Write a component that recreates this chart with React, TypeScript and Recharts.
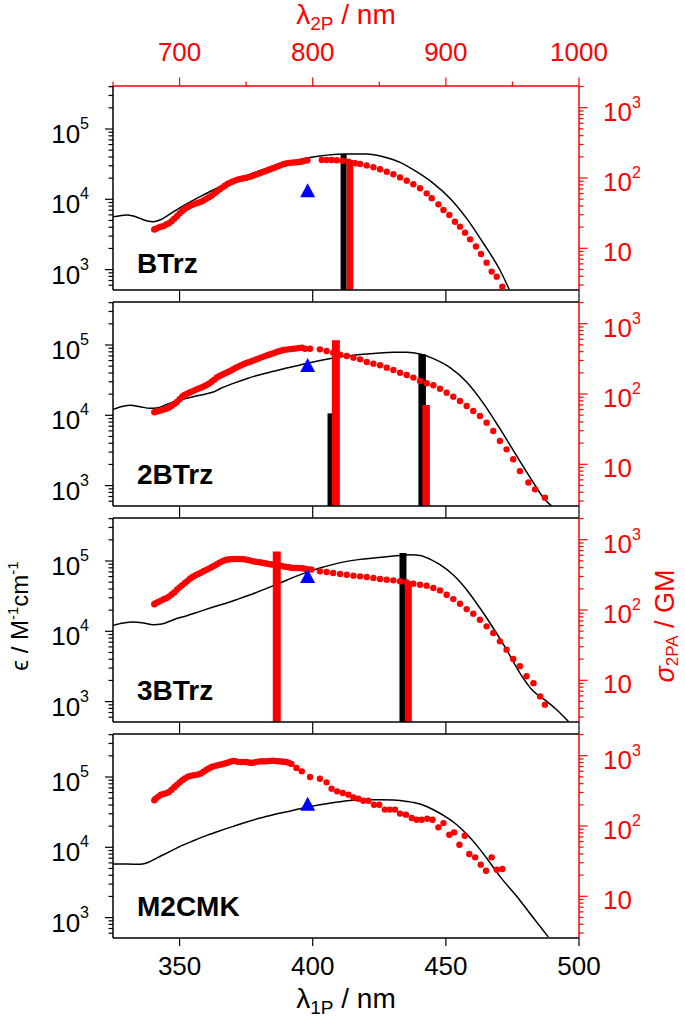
import React from 'react';
import { ComposedChart, Line, Scatter, XAxis, YAxis, ReferenceLine } from 'recharts';

type Pt = [number, number];

const FONT = '"Liberation Sans", Arial, Helvetica, sans-serif';
const RED = '#ff0000';
const BLUE = '#0000ff';
const BLACK = '#000000';

// ---------- axes ----------
const X1P_DOMAIN = [325, 500];
const X1P_TICKS = [350, 400, 450, 500];
const X2P_DOMAIN = [650, 1000];
const X2P_TICKS = [650, 700, 750, 800, 850, 900, 950, 1000];
const X2P_LABELED = [700, 800, 900, 1000];
const EPS_DOMAIN = [513, 409000];
const EPS_TICKS = [600, 700, 800, 900, 1000, 2000, 3000, 4000, 5000, 6000, 7000, 8000, 9000, 10000,
  20000, 30000, 40000, 50000, 60000, 70000, 80000, 90000, 100000, 200000, 300000, 400000];
const EPS_LABELED = [1000, 10000, 100000];
const SIG_DOMAIN = [2.55, 2036];
const SIG_TICKS = [3, 4, 5, 6, 7, 8, 9, 10, 20, 30, 40, 50, 60, 70, 80, 90, 100, 200, 300, 400, 500, 600, 700, 800, 900, 1000, 2000];
const SIG_LABELED = [10, 100, 1000];

// ---------- BTrz ----------
const BTRZ_EPS: Pt[] = [[325.1,5660],[327.6,5850],[330.1,5980],[332.6,5780],[335.1,5360],[337.6,4970],[340.1,4810],[342.6,5080],[345.2,5780],[350.2,7600],[357.7,10900],[365.2,15100],[372.7,19900],[380.2,25500],[387.7,31400],[395.2,37000],[402.7,41300],[411.5,44100],[420.3,44100],[426.5,40400],[432.8,33600],[439.0,24700],[445.3,16900],[451.6,10300],[457.8,5360],[464.1,2370],[470.3,987],[473.8,524]];
const BTRZ_SIG: Pt[] = [[340.5,18.5],[341,18.8],[342,19.7],[343,20.2],[344,20.7],[345,21.8],[346,22.8],[347,24.2],[348,26.3],[349,28.5],[350,31.2],[351,34.0],[352,36.5],[353,38.5],[354,40.2],[355,41.8],[356,43.2],[357,44.5],[358,45.8],[359,47.8],[360,50.5],[361,53.2],[362,56],[363,60],[364,64],[365,68.5],[366,73],[367,77.5],[368,82],[369,86],[370,89.5],[371,92.5],[372,95],[373,97],[374,99],[375,101],[376,103],[377,106],[378,109.5],[379,113],[380,117],[381,121],[382,125],[383,129],[384,133],[385,137.5],[386,142.5],[387,147.5],[388,152.5],[389,157.5],[390,161],[391,164],[392,165.5],[393,166.5],[394,167],[395,169],[396,172],[397,176],[398,179],
  [403.4,180],[405.2,180],[407.1,180],[409.0,179],[411.2,176],[413.4,171],[415.9,162],[417.8,158],[420.3,151],[422.8,142],[425.3,133],[427.8,123],[430.3,113],[432.8,102],[435.3,91.6],[437.8,81.3],[440.3,71.3],[442.8,60.5],[444.7,51.4],[447.2,42.2],[449.1,35.1],[451.3,29.8],[453.4,23.9],[455.3,20.3],[457.2,16.7],[459.1,13.4],[461.3,10.6],[463.2,8.3],[465.3,6.25],[467.2,4.66],[469.1,3.95],[471.2,2.85]];
const BTRZ_TRI: Pt[] = [[398.1, 64.6]];
const BTRZ_EPS_BARS: Pt[] = [[411.6, 44100]];
const BTRZ_SIG_BARS: Pt[] = [[414.0, 180]];

// ---------- 2BTrz ----------
const TRZ2_EPS: Pt[] = [[325.1,12160],[327.6,13130],[331.4,13870],[335.1,13280],[338.9,12570],[341.4,12700],[345.2,14320],[350.2,16510],[355.2,18410],[360.2,20310],[362.7,21450],[365.2,23910],[370.2,28490],[375.2,33200],[380.2,37840],[385.2,42210],[390.2,47090],[395.2,51960],[400.2,57310],[405.2,62520],[410.3,67480],[415.3,71270],[420.3,74440],[425.3,76910],[430.3,78640],[435.3,78640],[440.3,74440],[445.3,63970],[451.6,47610],[457.8,29780],[464.1,14800],[470.3,6450],[476.6,2640],[482.9,1100],[486.6,673],[489.7,513]];
const TRZ2_SIG: Pt[] = [[340.5,55],[341,56],[342,57],[343,58.5],[344,60],[345,61.8],[346,64.5],[347,67.5],[348,72],[349,77],[350,84],[351,92],[352,98],[353,102],[354,106],[355,110],[356,114.5],[357,119],[358,123],[359,128],[360,133],[361,140],[362,149],[363,160],[364,172],[365,180],[366,188],[367,196],[368,204],[369,213],[370,223],[371,234],[372,245],[373,255],[374,266],[375,276],[376,284],[377,293],[378,303],[379,313],[380,324],[381,335],[382,346],[383,357],[384,367],[385,378],[386,390],[387,402],[388,413],[389,423],[390,428],[391,432],[392,437],[393,442],[394,446],[395,452],[396,456],
  [397.1,441],[399.0,441],[402.7,432],[405.2,409],[407.7,387],[410.3,362],[412.8,347],[415.3,329],[417.8,311],[420.3,285],[422.8,270],[425.3,256],[427.8,237],[430.3,219],[432.8,201],[435.3,186],[437.8,171],[440.3,153],[442.8,142],[445.3,133],[447.8,119],[450.3,104.5],[452.8,91.6],[455.3,79.5],[457.8,67.5],[460.3,57.3],[462.8,48.6],[465.3,39.1],[467.8,29.8],[470.3,21.4],[472.8,16.3],[475.3,11.8],[477.8,8.0],[481.0,5.5],[483.5,4.4],[487.2,3.35]];
const TRZ2_TRI: Pt[] = [[398.1, 250]];
const TRZ2_EPS_BARS: Pt[] = [[406.4, 10660], [441.1, 73600]];
const TRZ2_SIG_BARS: Pt[] = [[408.7, 580], [442.6, 69.8]];

// ---------- 3BTrz ----------
const TRZ3_EPS: Pt[] = [[325.1,12150],[328.9,13130],[332.6,13560],[336.4,13130],[340.1,12420],[343.3,12700],[347.7,14640],[352.7,16680],[357.7,19230],[362.7,22140],[367.7,25240],[372.7,29420],[377.7,34290],[382.7,40820],[387.7,48590],[392.7,58480],[397.7,68960],[402.7,79490],[407.7,89570],[412.8,98800],[417.8,105500],[422.8,110200],[427.8,115100],[432.8,120200],[436.5,122900],[440.3,120200],[444.0,106600],[447.8,88720],[452.8,63240],[457.8,39090],[462.8,21440],[467.8,11140],[472.8,5480],[477.8,2550],[482.9,1400],[487.9,1010],[491.6,768],[496.0,524]];
const TRZ3_SIG: Pt[] = [[340.5,121],[341,125],[342,130],[343,136],[344,142],[345,147],[346,155],[347,166],[348,178],[349,194],[350,210],[351,226],[352,243],[353,260],[354,280],[355,298],[356,312],[357,326],[358,340],[359,355],[360,372],[361,388],[362,405],[363,425],[364,448],[365,472],[366,492],[367,510],[368,522],[369,528],[370,531],[371,532],[372,532],[373,530],[374,526],[375,521],[376,512],[377,500],[378,490],[379,483],[380,477],[381,470],[382,462],[383,455],[384,448],[385,442],[386,436],[387,431],[388,425],[389,418],[390,410],[391,405],[392,399],[393,396],[394,396],[395,396],[396,392],[397,386],[398,381],[399.5,376],
  [402.7,355],[405.2,347],[407.7,336],[410.3,325],[412.8,318],[415.3,308],[417.8,301],[420.3,294],[422.8,285],[425.3,276],[427.8,270],[430.3,264],[432.8,256],[435.3,247],[437.8,237],[440.3,229],[442.8,222],[445.3,206],[447.8,190],[450.3,165],[452.8,143],[455.3,123],[457.8,103],[460.3,88.7],[462.8,72.8],[465.3,58.5],[467.8,47.1],[470.3,35.8],[472.8,27.3],[475.3,20.1],[477.8,15.8],[480.3,11.4],[482.9,9.1],[485.4,5.9],[487.2,4.5]];
const TRZ3_TRI: Pt[] = [[398.1, 294]];
const TRZ3_EPS_BARS: Pt[] = [[433.9, 130000]];
const TRZ3_SIG_BARS: Pt[] = [[386.5, 682], [435.9, 256]];

// ---------- M2CMK ----------
const M2CMK_EPS: Pt[] = [[325.1,5780],[330.1,5780],[335.1,5720],[337.6,5970],[341.4,7030],[345.2,8280],[350.2,10300],[355.2,12410],[360.2,14790],[365.2,17220],[370.2,19860],[375.2,22880],[380.2,26070],[385.2,29090],[390.2,32070],[395.2,35380],[400.2,38620],[405.2,41690],[410.3,44550],[415.3,46540],[420.3,47570],[425.3,47570],[430.3,47020],[435.3,44990],[440.3,41220],[445.3,34260],[450.3,26650],[454.1,20960],[457.8,15440],[461.6,10650],[465.3,7030],[470.3,3860],[476.6,2010],[482.9,986],[488.5,530]];
const M2CMK_SIG: Pt[] = [[340.5,232],[341,245],[342,262],[343,278],[344,286],[345,292],[346,305],[347,328],[348,355],[349,385],[350,415],[351,448],[352,475],[353,500],[354,515],[355,525],[356,532],[357,542],[358,560],[359,590],[360,625],[361,660],[362,690],[363,710],[364,728],[365,742],[366,755],[367,775],[368,795],[369,820],[370,845],[371,835],[372,818],[373,812],[374,815],[375,812],[376,800],[377,790],[378,800],[379,818],[380,830],[381,832],[382,830],[383,835],[384,842],[385,848],[386,842],[387,832],[388,828],[389,822],[390,812],[391,795],[392,765],
  [393.9,668],[395.9,599],[399.0,498],[402.7,471],[405.2,418],[407.1,340],[409.2,311],[411.3,294],[413.4,279],[415.3,255],[417.1,244],[419.0,229],[420.9,229],[423.0,201],[425.0,201],[427.1,171],[429.0,171],[430.9,171],[432.8,150],[435.0,145],[437.2,130],[439.0,123],[440.9,123],[443.0,127],[445.0,123],[447.2,95.7],[449.1,110],[451.3,75.2],[453.1,81.1],[455.1,54.2],[457.1,72.8],[458.8,39.9],[461.0,35.8],[463.1,28.2],[465.1,23.1],[467.2,35.8],[469.1,23.9],[471.2,24.4]];
const M2CMK_TRI: Pt[] = [[398.1, 201]];
const M2CMK_EPS_BARS: Pt[] = [];
const M2CMK_SIG_BARS: Pt[] = [];

const PANEL_NAMES = ['BTrz', '2BTrz', '3BTrz', 'M2CMK'];
const PANELS = [
  { eps: BTRZ_EPS, sig: BTRZ_SIG, tri: BTRZ_TRI, epsBars: BTRZ_EPS_BARS, sigBars: BTRZ_SIG_BARS },
  { eps: TRZ2_EPS, sig: TRZ2_SIG, tri: TRZ2_TRI, epsBars: TRZ2_EPS_BARS, sigBars: TRZ2_SIG_BARS },
  { eps: TRZ3_EPS, sig: TRZ3_SIG, tri: TRZ3_TRI, epsBars: TRZ3_EPS_BARS, sigBars: TRZ3_SIG_BARS },
  { eps: M2CMK_EPS, sig: M2CMK_SIG, tri: M2CMK_TRI, epsBars: M2CMK_EPS_BARS, sigBars: M2CMK_SIG_BARS },
];

// ---------- layout / style (not data) ----------
const CHART_W = 685;
const PLOT_LEFT = 113;
const PLOT_RIGHT = 579;
const AXIS_W = 80;
const PLOT_H = 204;
const PANEL_TOPS = [86, 302, 518, 734];
const LABEL_BASELINES = [187, 182, 182, 182];
const EPS_BAR_W = [[6], [4.5, 7.5], [7], []];
const SIG_BAR_W = [[6.5], [8, 7.5], [8, 7], []];

const toXY = (pts: Pt[]) => pts.map(([x, y]) => ({ x, y }));

const LeftTick = (props: any) => {
  const { x, y, payload } = props;
  const v = payload.value;
  const major = EPS_LABELED.includes(v);
  const exp = Math.round(Math.log10(v));
  return (
    <g>
      <line x1={x - (major ? 8 : 4.5)} x2={x} y1={y} y2={y} stroke={BLACK} strokeWidth={1.2} />
      {major && (
        <text x={x - 24} y={y + 14} textAnchor="end" fontSize={26} fontFamily={FONT} fill={BLACK}>
          10<tspan fontSize={16} dy={-14}>{exp}</tspan>
        </text>
      )}
    </g>
  );
};

const RightTick = (props: any) => {
  const { x, y, payload } = props;
  const v = payload.value;
  const major = SIG_LABELED.includes(v);
  const exp = Math.round(Math.log10(v));
  return (
    <g>
      <line x1={x} x2={x + (major ? 8.5 : 4.5)} y1={y} y2={y} stroke={RED} strokeWidth={1.2} />
      {major && (
        <text x={x + 24} y={y + 13} textAnchor="start" fontSize={26} fontFamily={FONT} fill={RED}>
          10{exp > 1 && <tspan fontSize={16} dy={-13}>{exp}</tspan>}
        </text>
      )}
    </g>
  );
};

const TopRedTick = (props: any) => {
  const { x, y, payload } = props;
  const v = payload.value;
  const major = X2P_LABELED.includes(v);
  return (
    <g>
      <line x1={x} x2={x} y1={y} y2={y - (major ? 8.5 : 4.5)} stroke={RED} strokeWidth={1.2} />
      {major && (
        <text x={x} y={y - 25} textAnchor="middle" fontSize={26} fontFamily={FONT} fill={RED}>{v}</text>
      )}
    </g>
  );
};

const UpTick = (props: any) => {
  const { x, y } = props;
  return <line x1={x} x2={x} y1={y} y2={y - 6} stroke={BLACK} strokeWidth={1.2} />;
};

const DownTick = (props: any) => {
  const { x, y } = props;
  return <line x1={x} x2={x} y1={y} y2={y + 6} stroke={BLACK} strokeWidth={1.2} />;
};

const BottomLabelTick = (props: any) => {
  const { x, y, payload } = props;
  return (
    <g>
      <line x1={x} x2={x} y1={y} y2={y + 8} stroke={BLACK} strokeWidth={1.2} />
      <text x={x} y={y + 37} textAnchor="middle" fontSize={26} fontFamily={FONT} fill={BLACK}>{payload.value}</text>
    </g>
  );
};

const RedDot = (props: any) => <circle cx={props.cx} cy={props.cy} r={3.2} fill={RED} />;
const BlueTriangle = (props: any) => {
  const { cx, cy } = props;
  return <polygon points={`${cx},${cy - 8} ${cx - 7.5},${cy + 6} ${cx + 7.5},${cy + 6}`} fill={BLUE} />;
};

function Panel({ idx }: { idx: number }) {
  const p = PANELS[idx];
  const first = idx === 0;
  const last = idx === PANELS.length - 1;
  const topH = first ? 86 : 6;
  const botH = last ? 81 : 6;
  const h = topH + PLOT_H + botH;
  return (
    <div style={{ position: 'absolute', left: 0, top: PANEL_TOPS[idx] - topH }}>
      <ComposedChart
        width={CHART_W}
        height={h}
        margin={{ top: 0, right: CHART_W - PLOT_RIGHT - AXIS_W, bottom: 0, left: PLOT_LEFT - AXIS_W }}
      >
        {first ? (
          <XAxis xAxisId="top" orientation="top" type="number" dataKey="x2" domain={X2P_DOMAIN} ticks={X2P_TICKS}
            interval={0} height={topH} tickSize={0} tickMargin={0} tickLine={false} allowDataOverflow
            axisLine={{ stroke: RED, strokeWidth: 1.5 }} tick={TopRedTick} />
        ) : (
          <XAxis xAxisId="top" orientation="top" type="number" dataKey="x" domain={X1P_DOMAIN} ticks={X1P_TICKS}
            interval={0} height={topH} tickSize={0} tickMargin={0} tickLine={false} allowDataOverflow
            axisLine={{ stroke: BLACK, strokeWidth: 1.5 }} tick={UpTick} />
        )}
        <XAxis xAxisId="b" orientation="bottom" type="number" dataKey="x" domain={X1P_DOMAIN} ticks={X1P_TICKS}
          interval={0} height={botH} tickSize={0} tickMargin={0} tickLine={false} allowDataOverflow
          axisLine={{ stroke: BLACK, strokeWidth: 1.5 }} tick={last ? BottomLabelTick : DownTick} />
        <YAxis yAxisId="l" orientation="left" type="number" scale="log" dataKey="y" domain={EPS_DOMAIN} ticks={EPS_TICKS}
          interval={0} width={AXIS_W} tickSize={0} tickMargin={0} tickLine={false} allowDataOverflow
          axisLine={{ stroke: BLACK, strokeWidth: 1.5 }} tick={LeftTick} />
        <YAxis yAxisId="r" orientation="right" type="number" scale="log" dataKey="y" domain={SIG_DOMAIN} ticks={SIG_TICKS}
          interval={0} width={AXIS_W} tickSize={0} tickMargin={0} tickLine={false} allowDataOverflow
          axisLine={{ stroke: RED, strokeWidth: 1.5 }} tick={RightTick} />
        <Line xAxisId="b" yAxisId="l" data={toXY(p.eps)} dataKey="y" type="monotone" stroke={BLACK}
          strokeWidth={1.5} dot={false} activeDot={false} isAnimationActive={false} />
        {p.epsBars.map(([nm, v], i) => (
          <ReferenceLine key={`eb${i}`} xAxisId="b" yAxisId="l" ifOverflow="hidden"
            segment={[{ x: nm, y: EPS_DOMAIN[0] }, { x: nm, y: v }]}
            stroke={BLACK} strokeWidth={EPS_BAR_W[idx][i]} />
        ))}
        {p.sigBars.map(([nm, v], i) => (
          <ReferenceLine key={`sb${i}`} xAxisId="b" yAxisId="r" ifOverflow="hidden"
            segment={[{ x: nm, y: SIG_DOMAIN[0] }, { x: nm, y: v }]}
            stroke={RED} strokeWidth={SIG_BAR_W[idx][i]} />
        ))}
        <Scatter xAxisId="b" yAxisId="r" data={toXY(p.sig)} dataKey="y" shape={RedDot} isAnimationActive={false} />
        <Scatter xAxisId="b" yAxisId="r" data={toXY(p.tri)} dataKey="y" shape={BlueTriangle} isAnimationActive={false} />
      </ComposedChart>
    </div>
  );
}

export default function App() {
  return (
    <div style={{ position: 'absolute', left: 0, top: 0, width: 685, height: 1019, background: '#fff', fontFamily: FONT }}>
      {PANELS.map((_, i) => <Panel key={i} idx={i} />)}
      <svg width={685} height={1019} style={{ position: 'absolute', left: 0, top: 0, pointerEvents: 'none' }}>
        <text x={346} y={24} textAnchor="middle" fontSize={28} fontFamily={FONT} fill={RED}>
          λ<tspan fontSize={19} dy={6}>2P</tspan><tspan dy={-6}> / nm</tspan>
        </text>
        <text x={346} y={1008} textAnchor="middle" fontSize={28} fontFamily={FONT} fill={BLACK}>
          λ<tspan fontSize={19} dy={6}>1P</tspan><tspan dy={-6}> / nm</tspan>
        </text>
        <text transform="translate(28,616) rotate(-90)" textAnchor="middle" fontSize={24} fontFamily={FONT} fill={BLACK}>
          ϵ / M<tspan fontSize={15} dy={-10}>-1</tspan><tspan dy={10}>cm</tspan><tspan fontSize={15} dy={-10}>-1</tspan>
        </text>
        <text transform="translate(674,626) rotate(-90)" textAnchor="middle" fontSize={27} fontFamily={FONT} fill={RED}>
          <tspan fontStyle="italic">σ</tspan><tspan fontSize={17} dy={4}>2PA</tspan><tspan dy={-4}> / GM</tspan>
        </text>
        {PANEL_NAMES.map((n, i) => (
          <text key={n} x={137} y={PANEL_TOPS[i] + LABEL_BASELINES[i]} fontSize={28} fontWeight="bold" fontFamily={FONT} fill={BLACK}>{n}</text>
        ))}
      </svg>
    </div>
  );
}
